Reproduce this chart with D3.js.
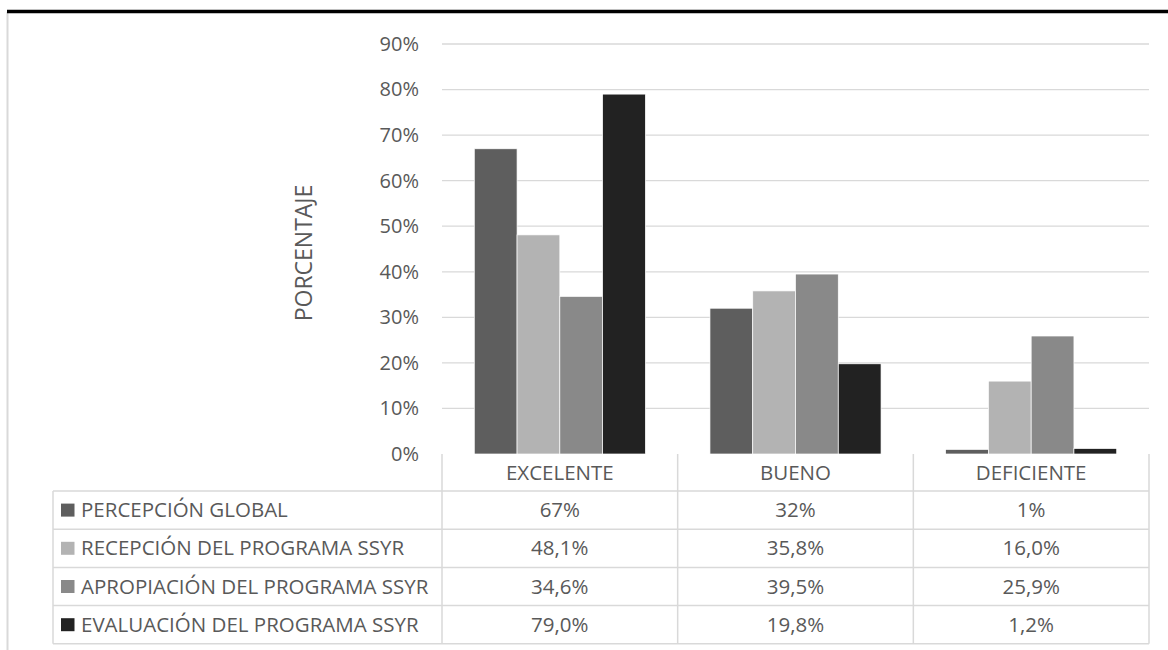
<!DOCTYPE html>
<html>
<head>
<meta charset="utf-8">
<script src="https://cdn.jsdelivr.net/npm/d3@7"></script>
<style>
  body { margin: 0; background: #fff; }
  text { font-family: "Open Sans", sans-serif; fill: #595959; }
</style>
</head>
<body>
<script>
// categorias y series (valores en %)
const categories = ["EXCELENTE", "BUENO", "DEFICIENTE"];
const seriesNames = ["PERCEPCIÓN GLOBAL", "RECEPCIÓN DEL PROGRAMA SSYR", "APROPIACIÓN DEL PROGRAMA SSYR", "EVALUACIÓN DEL PROGRAMA SSYR"];
const percepcion = [67, 32, 1];
const recepcion = [48.1, 35.8, 16.0];
const apropiacion = [34.6, 39.5, 25.9];
const evaluacion = [79.0, 19.8, 1.2];
const seriesValues = [percepcion, recepcion, apropiacion, evaluacion];
const seriesDecimals = [0, 1, 1, 1];
const yTicks = [0, 10, 20, 30, 40, 50, 60, 70, 80, 90];

const colors = ["#5e5e5e", "#b3b3b3", "#898989", "#222222"];

const w = 1168, h = 650;
const plotLeft = 442, plotRight = 1149, plotTop = 44, plotBottom = 454;
const rowH = 38.2, headH = 37, tableLeft = 53;
const fs = "20.5px";

const svg = d3.select("body").append("svg")
  .attr("width", w)
  .attr("height", h);

// marco
svg.append("line")
  .attr("x1", 7.5).attr("x2", 7.5).attr("y1", 12).attr("y2", h)
  .attr("stroke", "#d9d9d9").attr("stroke-width", 2);
svg.append("line")
  .attr("x1", 7).attr("x2", w).attr("y1", 11.5).attr("y2", 11.5)
  .attr("stroke", "#000").attr("stroke-width", 3.5);

const x0 = d3.scaleBand().domain(categories).range([plotLeft, plotRight]);
const x1 = d3.scaleBand().domain(d3.range(seriesNames.length))
  .range([0, x0.bandwidth()]).paddingOuter(0.755);
const y = d3.scaleLinear().domain([0, 90]).range([plotBottom, plotTop]);

// grid
svg.append("g")
  .selectAll("line")
  .data(yTicks.slice(1))
  .enter().append("line")
  .attr("x1", plotLeft).attr("x2", plotRight)
  .attr("y1", d => y(d)).attr("y2", d => y(d))
  .attr("stroke", "#d9d9d9").attr("stroke-width", 1.3);

const yAxis = d3.axisLeft(y).tickValues(yTicks).tickSize(0).tickPadding(23)
  .tickFormat(d => d + "%");
const ya = svg.append("g")
  .attr("transform", "translate(" + plotLeft + ",0)")
  .call(yAxis);
ya.select(".domain").remove();
ya.selectAll("text").style("font-size", "20px").attr("fill", "#595959").style("font-family", "'Open Sans', sans-serif");

svg.append("text")
  .attr("transform", "translate(312,253) rotate(-90)")
  .attr("text-anchor", "middle")
  .style("font-size", "23px")
  .text("PORCENTAJE");

// barras
const bars = [];
seriesValues.forEach((vals, s) => vals.forEach((v, i) => bars.push({ s: s, cat: categories[i], v: v })));

svg.append("g")
  .selectAll("rect")
  .data(bars)
  .enter().append("rect")
  .attr("x", d => x0(d.cat) + x1(d.s))
  .attr("y", d => y(d.v))
  .attr("width", x1.bandwidth())
  .attr("height", d => plotBottom - y(d.v))
  .attr("fill", d => colors[d.s])
  .attr("stroke", "#fff")
  .attr("stroke-width", 0.7);

// tabla de datos
const tbl = svg.append("g");
const border = "#d9d9d9";
const tableBottom = plotBottom + headH + rowH * seriesNames.length;

// lineas horizontales
const hLines = d3.range(0, seriesNames.length + 1).map(i => plotBottom + headH + rowH * i);
tbl.selectAll(".hl")
  .data(hLines)
  .enter().append("line")
  .attr("x1", tableLeft).attr("x2", plotRight)
  .attr("y1", d => d).attr("y2", d => d)
  .attr("stroke", border).attr("stroke-width", 1.5);
tbl.append("line")
  .attr("x1", tableLeft).attr("x2", tableLeft)
  .attr("y1", plotBottom + headH).attr("y2", tableBottom)
  .attr("stroke", border).attr("stroke-width", 1.5);
tbl.selectAll(".vl")
  .data([plotLeft].concat(categories.map(c => x0(c) + x0.bandwidth())))
  .enter().append("line")
  .attr("x1", d => d).attr("x2", d => d)
  .attr("y1", plotBottom).attr("y2", tableBottom)
  .attr("stroke", border).attr("stroke-width", 1.5);

// cabecera
tbl.selectAll(".head")
  .data(categories)
  .enter().append("text")
  .attr("x", d => x0(d) + x0.bandwidth() / 2)
  .attr("y", plotBottom + headH / 2)
  .attr("dy", "0.35em")
  .attr("text-anchor", "middle")
  .style("font-size", fs)
  .text(d => d);

// filas
const rows = tbl.selectAll(".row")
  .data(seriesNames)
  .enter().append("g")
  .attr("transform", (d, i) => "translate(0," + (plotBottom + headH + rowH * i) + ")");

rows.append("rect")
  .attr("x", 61).attr("y", rowH / 2 - 6.5)
  .attr("width", 13.5).attr("height", 13)
  .attr("fill", (d, i) => colors[i]);

rows.append("text")
  .attr("x", 81)
  .attr("y", rowH / 2)
  .attr("dy", "0.35em")
  .style("font-size", fs)
  .text(d => d);

rows.each(function(name, s) {
  d3.select(this).selectAll(".val")
    .data(seriesValues[s])
    .enter().append("text")
    .attr("x", (v, i) => x0(categories[i]) + x0.bandwidth() / 2)
    .attr("y", rowH / 2)
    .attr("dy", "0.35em")
    .attr("text-anchor", "middle")
    .style("font-size", fs)
    .text(v => d3.format("." + seriesDecimals[s] + "f")(v).replace(".", ",") + "%");
});
</script>
</body>
</html>
